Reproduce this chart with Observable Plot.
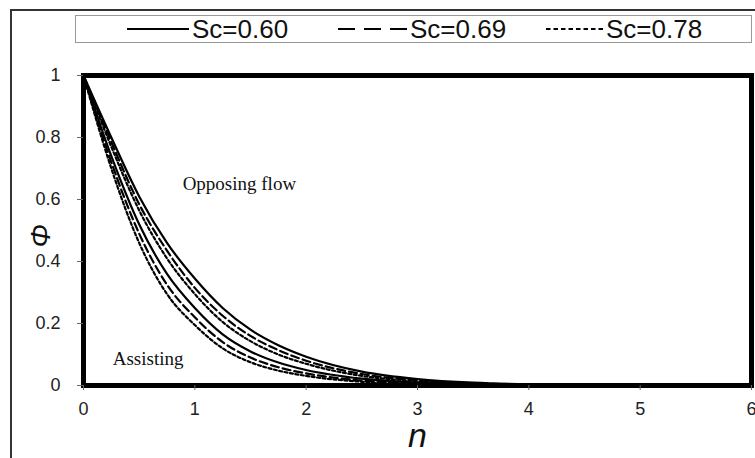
<!DOCTYPE html>
<html>
<head>
<meta charset="utf-8">
<script src="https://cdn.jsdelivr.net/npm/d3@7"></script>
<script src="https://cdn.jsdelivr.net/npm/@observablehq/plot@0.6"></script>
<style>
  body { margin: 0; background: #fff; }
  #wrap { position: relative; width: 755px; height: 458px; overflow: hidden; font-family: "Liberation Sans", Arial, sans-serif; }
  #outer { position: absolute; left: 10px; top: 9px; width: 900px; height: 600px; border-left: 2.5px solid #333; border-top: 2.5px solid #333; }
  #chart { position: absolute; left: 0; top: 0; }
  #legend { position: absolute; left: 75px; top: 15px; width: 677px; height: 28px; box-sizing: border-box; border: 1.3px solid #999; background: #fff; z-index: 2; }
  .item { position: absolute; top: 0; height: 26px; display: flex; align-items: center; font-size: 26px; color: #111; white-space: nowrap; }
  .item svg { display: block; margin-right: 3px; }
</style>
</head>
<body>
<div id="wrap">
  <div id="outer"></div>
  <div id="chart"></div>
  <div id="legend"></div>
</div>
<script>
// ---- data ----
const nVals   = [0, 0.25, 0.5, 0.75, 1, 1.25, 1.5, 1.75, 2, 2.5, 3, 3.5, 4, 5, 6];
const oppSc060 = [1, 0.80, 0.61, 0.46, 0.345, 0.25, 0.18, 0.13, 0.093, 0.045, 0.021, 0.009, 0.004, 0.001, 0];
const oppSc069 = [1, 0.785, 0.585, 0.435, 0.315, 0.225, 0.16, 0.114, 0.080, 0.037, 0.017, 0.007, 0.003, 0.0005, 0];
const oppSc078 = [1, 0.77, 0.565, 0.41, 0.295, 0.205, 0.143, 0.100, 0.070, 0.031, 0.014, 0.006, 0.002, 0.0004, 0];
const astSc060 = [1, 0.74, 0.52, 0.36, 0.25, 0.165, 0.11, 0.074, 0.050, 0.022, 0.009, 0.004, 0.0015, 0.0002, 0];
const astSc069 = [1, 0.72, 0.49, 0.325, 0.22, 0.14, 0.09, 0.059, 0.039, 0.016, 0.007, 0.003, 0.001, 0.0001, 0];
const astSc078 = [1, 0.70, 0.46, 0.295, 0.195, 0.12, 0.075, 0.048, 0.031, 0.012, 0.005, 0.002, 0.0008, 0, 0];
const scLabels = ["Sc=0.60", "Sc=0.69", "Sc=0.78"];
const xTicks = [0, 1, 2, 3, 4, 5, 6];
const yTicks = [0, 0.2, 0.4, 0.6, 0.8, 1];
const noteText = ["Opposing flow", "Assisting"];
const noteN    = [1.4, 0.58];
const notePhi  = [0.65, 0.085];

// ---- styles ----
const chartDash  = [null, "8,4", "3,2.5"];
const legendDash = [null, "17,9", "4.5,3"];
const legendLeft = [51, 262, 470];

const series = [
  {values: oppSc060, sc: 0}, {values: oppSc069, sc: 1}, {values: oppSc078, sc: 2},
  {values: astSc060, sc: 0}, {values: astSc069, sc: 1}, {values: astSc078, sc: 2}
];
const notes = noteText.map((t, i) => ({text: t, n: noteN[i], phi: notePhi[i]}));

const lineMarks = series.map(s => Plot.line(
  nVals.map((n, i) => ({n, phi: s.values[i]})),
  {x: "n", y: "phi", stroke: "black", strokeWidth: 2.2, strokeDasharray: chartDash[s.sc], curve: "monotone-x"}
));

const chart = Plot.plot({
  width: 755, height: 458,
  marginLeft: 83, marginRight: 4, marginTop: 75, marginBottom: 73,
  style: {background: "transparent", fontFamily: "Liberation Sans, Arial, sans-serif", color: "#222"},
  x: {domain: [0, 6]},
  y: {domain: [0, 1]},
  marks: [
    ...lineMarks,
    Plot.text(notes, {x: "n", y: "phi", text: "text", fontFamily: "Liberation Serif, Times New Roman, serif", fontSize: 19, fill: "#111"}),
    Plot.frame({stroke: "black", strokeWidth: 5}),
    Plot.axisY({ticks: yTicks, tickFormat: d => String(d), tickSize: 6, tickPadding: 17, fontSize: 18, label: null, stroke: "#666"}),
    Plot.axisX({ticks: xTicks, tickFormat: d => String(d), tickSize: 5, tickPadding: 12, fontSize: 18, label: null, stroke: "#666"}),
    Plot.text(["n"], {frameAnchor: "bottom", dy: 61, fontSize: 34, fontStyle: "italic", fill: "#111"}),
    Plot.text(["Φ"], {frameAnchor: "left", dx: -42, dy: 17, rotate: -90, fontSize: 28, fontStyle: "italic", fill: "#111"})
  ]
});
document.getElementById("chart").appendChild(chart);

// legend
const legend = document.getElementById("legend");
scLabels.forEach((lab, i) => {
  const item = document.createElement("div");
  item.className = "item";
  item.style.left = legendLeft[i] + "px";
  const w = [62, 69, 57][i];
  const svg = d3.create("svg").attr("width", w).attr("height", 10);
  svg.append("line").attr("x1", 0).attr("x2", w).attr("y1", 5).attr("y2", 5)
    .attr("stroke", "black").attr("stroke-width", 2)
    .attr("stroke-dasharray", legendDash[i]);
  item.appendChild(svg.node());
  const span = document.createElement("span");
  span.textContent = lab;
  item.appendChild(span);
  legend.appendChild(item);
});
</script>
</body>
</html>
